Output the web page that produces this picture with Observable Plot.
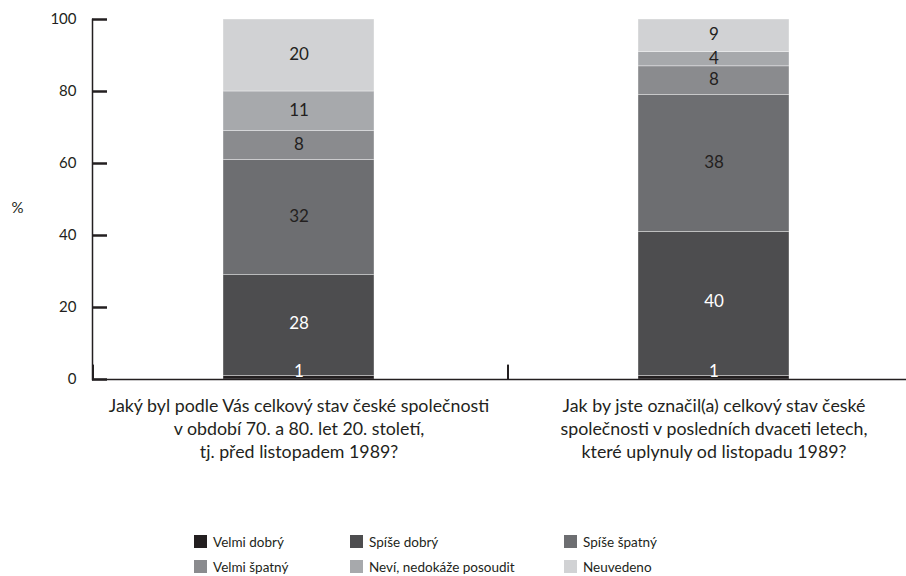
<!DOCTYPE html>
<html><head><meta charset="utf-8">
<script src="https://cdn.jsdelivr.net/npm/d3@7"></script>
<script src="https://cdn.jsdelivr.net/npm/@observablehq/plot@0.6"></script>
<style>
body{margin:0;background:#fff;font-family:Lato, "Noto Sans", sans-serif;}
#legend{display:grid;grid-template-columns:156px 214px auto;padding-left:194px;margin-top:4px;font-size:13.5px;color:#231f20;}
.item{display:flex;align-items:center;height:25px;line-height:16px;white-space:nowrap;}
.sw{width:13px;height:13px;margin-right:6px;flex:none;}
</style></head><body>
<div id="chart"></div><div id="legend"></div>
<script>
const questions = [
  "Jaký byl podle Vás celkový stav české společnosti\nv období 70. a 80. let 20. století,\ntj. před listopadem 1989?",
  "Jak by jste označil(a) celkový stav české\nspolečnosti v posledních dvaceti letech,\nkteré uplynuly od listopadu 1989?"
];
const answers = ["Velmi dobrý","Spíše dobrý","Spíše špatný","Velmi špatný","Neví, nedokáže posoudit","Neuvedeno"];
const before1989 = [1,28,32,8,11,20];
const after1989 = [1,40,38,8,4,9];
const colors = ["#231f20","#4d4d4f","#6d6e71","#8a8b8e","#a7a9ac","#d1d2d4"];
const yTicks = [0,20,40,60,80,100];

const data = [];
[before1989, after1989].forEach((vals,i)=>vals.forEach((v,j)=>data.push({q:questions[i], cat:answers[j], value:v})));
const lightText = new Set(answers.slice(0,2));

const W = 906, mLeft = 92;
const xRange = [92, 919], pIn = 0.637, pOut = 0.3125;
const step = (xRange[1]-xRange[0])/(questions.length - pIn + 2*pOut);
const ink = "#231f20";

const label = (cond) => d => cond(d) ? String(d.value) : "";

const plot = Plot.plot({
  width:W, height:525,
  marginLeft:mLeft, marginRight:0, marginTop:19, marginBottom:146,
  style:{fontFamily:"Lato, 'Noto Sans', sans-serif", color:ink, background:"white"},
  x:{domain:questions, range:xRange, paddingInner:pIn, paddingOuter:pOut, axis:null},
  y:{domain:[0,100], axis:null},
  color:{domain:answers, range:colors},
  marks:[
    Plot.barY(data, Plot.stackY({x:"q", y:"value", fill:"cat", stroke:"white", strokeOpacity:0.45, strokeWidth:0.8})),
    Plot.text(data, Plot.stackY({x:"q", y:"value", z:"cat", text:label(d=>lightText.has(d.cat) && d.value>1), fill:"white", fontSize:17, dy:-2})),
    Plot.text(data, Plot.stackY({x:"q", y:"value", z:"cat", text:label(d=>lightText.has(d.cat) && d.value<=1), fill:"white", fontSize:17, dy:-6})),
    Plot.text(data, Plot.stackY({x:"q", y:"value", z:"cat", text:label(d=>!lightText.has(d.cat)), fill:ink, fontSize:17, dy:-1})),
    Plot.axisY({ticks:yTicks, tickSize:0, tickPadding:16, fontSize:15, label:null, fill:ink}),
    Plot.ruleY(yTicks, {y:d=>d, insetRight:W-mLeft-15, stroke:ink, strokeWidth:2}),
    Plot.frame({anchor:"left", stroke:ink, strokeWidth:1.5}),
    Plot.ruleY([0], {stroke:ink, strokeWidth:1.5}),
    Plot.ruleX(questions, {x:d=>d, y1:0, y2:4, dx:-step/2 + 2, stroke:ink, strokeWidth:2}),
    Plot.text(questions, {x:d=>d, frameAnchor:"bottom", lineAnchor:"top", dy:16, lineHeight:1.29, fontSize:17.8, fill:ink}),
    Plot.text(["%"], {frameAnchor:"left", dx:-81, dy:9, fontSize:15, fill:ink})
  ]
});
document.getElementById("chart").appendChild(plot);

// inward y-axis ticks, positioned with Plot's own y scale
const ys = plot.scale("y");
const tg = d3.select(plot).append("g");
yTicks.forEach(t => {
  const yy = ys.apply(t) + 0.5;
  tg.append("line").attr("x1", mLeft).attr("x2", mLeft + 15).attr("y1", yy).attr("y2", yy)
    .attr("stroke", ink).attr("stroke-width", 2);
});

const legend = document.getElementById("legend");
answers.forEach((a,i)=>{
  const it = document.createElement("div"); it.className="item";
  const sw = document.createElement("span"); sw.className="sw"; sw.style.background=colors[i];
  const tx = document.createElement("span"); tx.textContent=a;
  it.appendChild(sw); it.appendChild(tx); legend.appendChild(it);
});
</script>
</body></html>
